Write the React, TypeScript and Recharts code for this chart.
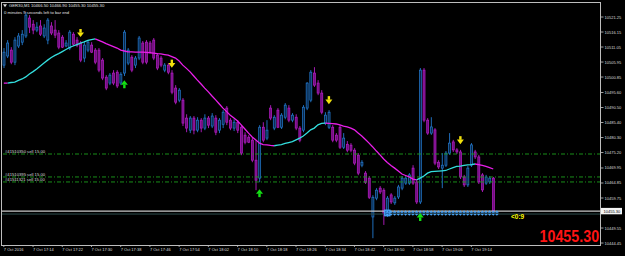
import React from "react";
import { ComposedChart, Bar, Line, XAxis, YAxis, ReferenceLine } from "recharts";

// GER30 M1 candles, 7 Oct 2016 17:06 .. 19:20
const opens = [
  10504.9, 10508.0, 10510.0, 10505.9, 10511.4, 10512.7, 10514.8, 10520.9, 10518.8, 10516.8,
  10518.2, 10514.8, 10513.4, 10518.2, 10516.8, 10515.8, 10514.4, 10511.4, 10510.7, 10515.4,
  10513.4, 10512.4, 10507.3, 10510.0, 10511.7, 10510.0, 10510.0, 10506.6, 10500.8, 10498.8,
  10502.2, 10502.5, 10498.8, 10502.2, 10505.6, 10507.6, 10504.9, 10507.3, 10512.4, 10512.7,
  10512.4, 10513.4, 10508.3, 10507.3, 10503.2, 10504.9, 10502.2, 10497.1, 10493.0, 10493.0,
  10486.9, 10482.8, 10486.9, 10482.8, 10486.2, 10483.5, 10486.9, 10484.2, 10486.9, 10482.8,
  10484.8, 10490.3, 10486.2, 10483.5, 10485.5, 10483.8, 10481.1, 10480.4, 10479.4, 10472.6,
  10466.5, 10483.8, 10480.1, 10490.3, 10483.5, 10489.6, 10483.8, 10487.2, 10490.3, 10486.2,
  10487.2, 10483.5, 10482.8, 10490.3, 10493.0, 10502.2, 10498.8, 10495.4, 10485.2, 10483.8,
  10483.8, 10481.1, 10483.8, 10477.0, 10478.0, 10477.7, 10476.0, 10474.3, 10470.9, 10468.2,
  10466.5, 10453.3, 10459.7, 10463.1, 10462.4, 10453.9, 10460.8, 10458.1, 10460.1, 10463.1,
  10464.8, 10464.8, 10469.9, 10465.2, 10458.4, 10503.2, 10486.2, 10481.8, 10482.9, 10471.9,
  10469.9, 10470.9, 10475.0, 10478.8, 10476.1, 10475.4, 10466.9, 10464.2, 10470.9, 10475.4,
  10473.7, 10467.6, 10464.8, 10465.2, 10466.5,
];
const highs = [
  10510.7, 10513.4, 10511.0, 10514.4, 10515.8, 10516.8, 10522.9, 10521.9, 10520.2, 10519.5,
  10520.2, 10518.8, 10520.9, 10519.5, 10520.2, 10516.8, 10515.1, 10513.4, 10516.8, 10516.1,
  10514.4, 10513.1, 10512.7, 10513.4, 10512.7, 10510.7, 10510.7, 10507.3, 10501.5, 10502.2,
  10503.2, 10503.2, 10502.5, 10516.8, 10510.7, 10508.3, 10508.0, 10514.8, 10513.1, 10513.4,
  10513.1, 10514.1, 10509.0, 10508.0, 10505.6, 10505.6, 10503.2, 10498.1, 10497.1, 10493.7,
  10488.2, 10487.6, 10487.6, 10487.2, 10486.9, 10488.2, 10487.6, 10488.6, 10487.9, 10486.9,
  10489.6, 10491.0, 10486.9, 10486.5, 10486.2, 10484.5, 10482.1, 10481.1, 10480.4, 10479.4,
  10484.5, 10485.5, 10486.2, 10491.3, 10487.9, 10490.3, 10488.6, 10492.0, 10491.3, 10488.6,
  10488.2, 10484.2, 10491.3, 10499.1, 10503.2, 10504.2, 10499.8, 10496.4, 10488.9, 10489.6,
  10484.5, 10481.8, 10484.5, 10481.8, 10479.1, 10478.4, 10476.7, 10475.0, 10472.6, 10468.9,
  10467.2, 10460.7, 10463.1, 10463.8, 10463.1, 10460.4, 10461.4, 10460.4, 10464.2, 10467.2,
  10467.2, 10468.2, 10470.9, 10465.9, 10503.9, 10503.9, 10486.9, 10487.2, 10483.5, 10472.6,
  10475.0, 10475.7, 10481.8, 10479.5, 10476.7, 10476.1, 10467.6, 10470.6, 10478.4, 10476.1,
  10474.4, 10468.2, 10467.6, 10467.2, 10466.9,
];
const lows = [
  10503.9, 10507.3, 10505.2, 10504.9, 10510.7, 10511.7, 10514.1, 10515.8, 10515.4, 10516.1,
  10514.8, 10514.1, 10512.0, 10515.1, 10514.1, 10510.3, 10510.7, 10511.0, 10510.0, 10511.4,
  10511.0, 10505.9, 10505.9, 10509.3, 10509.0, 10505.2, 10502.5, 10499.8, 10496.4, 10498.1,
  10498.1, 10497.1, 10498.1, 10501.2, 10504.9, 10502.5, 10503.9, 10506.6, 10505.2, 10505.2,
  10509.0, 10506.6, 10503.2, 10504.2, 10502.5, 10501.8, 10495.0, 10491.6, 10492.3, 10484.2,
  10482.1, 10481.8, 10481.4, 10482.1, 10482.1, 10482.8, 10483.5, 10483.5, 10481.1, 10481.8,
  10483.5, 10484.5, 10482.8, 10482.5, 10481.8, 10474.3, 10478.0, 10478.4, 10471.9, 10462.4,
  10465.1, 10478.7, 10479.4, 10486.2, 10482.8, 10483.5, 10483.2, 10486.5, 10485.5, 10485.5,
  10482.8, 10478.7, 10482.1, 10489.6, 10492.3, 10497.5, 10494.7, 10488.2, 10484.5, 10483.2,
  10478.7, 10478.7, 10476.4, 10476.4, 10475.3, 10475.3, 10470.9, 10467.5, 10470.2, 10464.5,
  10459.4, 10446.1, 10459.0, 10461.1, 10450.6, 10453.3, 10457.7, 10457.4, 10459.4, 10462.4,
  10464.2, 10464.2, 10464.2, 10457.7, 10457.7, 10485.5, 10481.2, 10481.2, 10470.9, 10469.6,
  10463.1, 10470.3, 10474.4, 10475.4, 10474.7, 10466.2, 10463.5, 10463.5, 10470.3, 10473.0,
  10464.5, 10461.8, 10464.2, 10464.5, 10455.3,
];
const closes = [
  10509.3, 10512.4, 10505.9, 10513.4, 10514.8, 10515.4, 10521.9, 10517.8, 10516.8, 10517.8,
  10515.4, 10517.5, 10520.2, 10515.8, 10515.1, 10511.0, 10511.0, 10512.4, 10516.1, 10512.0,
  10511.7, 10506.6, 10511.7, 10512.7, 10509.3, 10505.9, 10503.2, 10500.5, 10497.1, 10501.5,
  10498.8, 10497.8, 10501.8, 10516.1, 10510.0, 10503.2, 10507.3, 10514.1, 10505.9, 10505.9,
  10509.3, 10507.3, 10503.9, 10504.9, 10504.9, 10502.5, 10495.7, 10492.3, 10496.4, 10485.2,
  10483.5, 10486.9, 10482.8, 10486.2, 10483.5, 10486.9, 10484.5, 10487.6, 10482.1, 10486.2,
  10488.9, 10485.5, 10483.5, 10485.5, 10482.8, 10475.0, 10478.7, 10478.7, 10472.6, 10465.8,
  10483.8, 10479.4, 10482.8, 10486.9, 10487.2, 10483.8, 10487.9, 10491.3, 10486.2, 10487.9,
  10483.5, 10479.4, 10490.6, 10498.8, 10502.5, 10498.1, 10495.4, 10488.9, 10487.9, 10488.9,
  10479.4, 10479.4, 10477.0, 10480.1, 10476.0, 10476.0, 10471.6, 10468.2, 10471.9, 10465.1,
  10460.0, 10460.0, 10462.4, 10461.8, 10454.6, 10459.7, 10458.4, 10459.7, 10463.5, 10466.5,
  10466.5, 10467.6, 10464.8, 10458.4, 10503.2, 10486.2, 10481.8, 10483.9, 10471.6, 10470.3,
  10470.9, 10475.0, 10478.4, 10476.1, 10475.4, 10466.9, 10464.2, 10469.9, 10477.8, 10473.7,
  10465.2, 10462.5, 10466.9, 10466.5, 10455.3,
];
// moving average, coloured cyan while rising and magenta while falling
const ma = [
  10498.8, 10498.8, 10499.0, 10499.1, 10499.7, 10500.2, 10500.9, 10501.9, 10502.7, 10503.6,
  10504.6, 10505.6, 10506.6, 10507.5, 10508.2, 10508.8, 10509.5, 10510.2, 10510.9, 10511.4,
  10511.9, 10512.4, 10512.8, 10513.3, 10513.6, 10513.8, 10513.3, 10512.8, 10512.2, 10511.7,
  10511.2, 10510.7, 10510.0, 10509.7, 10509.4, 10509.4, 10509.3, 10509.3, 10509.3, 10509.2,
  10509.1, 10509.0, 10508.8, 10508.7, 10508.5, 10508.3, 10507.8, 10507.3, 10506.3, 10504.9,
  10503.8, 10502.6, 10501.2, 10499.8, 10498.5, 10497.1, 10495.8, 10494.4, 10493.1, 10491.7,
  10490.3, 10489.1, 10487.9, 10486.9, 10485.9, 10484.6, 10483.2, 10481.8, 10480.5, 10479.5,
  10478.4, 10477.9, 10477.8, 10477.6, 10477.5, 10477.7, 10477.9, 10478.3, 10478.6, 10478.9,
  10479.5, 10480.1, 10480.8, 10481.8, 10482.9, 10483.5, 10484.6, 10485.1, 10485.2, 10485.1,
  10485.0, 10484.9, 10484.6, 10484.2, 10483.9, 10483.5, 10482.9, 10481.8, 10480.8, 10479.6,
  10478.4, 10477.1, 10475.7, 10474.4, 10473.0, 10471.8, 10470.8, 10469.9, 10468.9, 10467.9,
  10467.4, 10466.9, 10466.2, 10465.9, 10466.5, 10467.2, 10468.2, 10468.7, 10468.8, 10468.9,
  10469.0, 10469.1, 10469.6, 10470.1, 10470.5, 10470.6, 10470.8, 10471.0, 10471.1, 10471.3,
  10471.1, 10470.8, 10470.5, 10470.1, 10469.6,
];

const timeLabels = [
  "7 Oct 2016", "7 Oct 17:14", "7 Oct 17:22", "7 Oct 17:30", "7 Oct 17:38", "7 Oct 17:46",
  "7 Oct 17:54", "7 Oct 18:02", "7 Oct 18:10", "7 Oct 18:18", "7 Oct 18:26", "7 Oct 18:34",
  "7 Oct 18:42", "7 Oct 18:50", "7 Oct 18:58", "7 Oct 19:06", "7 Oct 19:14",
];
const priceTicks = [
  10521.25, 10516.15, 10511.05, 10505.95, 10500.85, 10495.6, 10490.5, 10485.4,
  10480.3, 10475.2, 10469.95, 10464.85, 10459.75, 10449.55, 10444.45,
];
const bidPrice = 10455.3;
const spreadLine = 10454.3;
const orderLabels = ["#41510350 sell 15.00", "#41510395 sell 15.00", "#41511321 sell 15.00"];
const orderPrices = [10474.7, 10466.9, 10465.2];
const downArrowBars = [21, 46, 89, 125];
const downArrowPrices = [10515.8, 10505.4, 10493.0, 10479.4];
const upArrowBars = [33, 70, 114];
const upArrowPrices = [10498.4, 10461.4, 10453.3];
const markerBars = [
  105, 106, 107, 108, 109, 110, 111, 112, 113, 114, 115, 116, 117, 118, 119, 120,
  121, 122, 123, 124, 125, 126, 127, 128, 129, 130, 131, 132, 133, 134, 135,
];
const markerPrice = 10454.6;
const slots = 164; // bars plus the empty chart shift on the right

const W = 625;
const H = 256;
const FONT = "Liberation Sans, Arial, sans-serif";
const BULL = "#2379cf";
const BULL_FILL = "#0a2748";
const BEAR = "#b51cc4";
const BEAR_FILL = "#6e107f";
const MARK = "#4aa8ff";

const rising = ma.map((v, i) => i > 0 && v > ma[i - 1]);

const rows = Array.from({ length: slots }, (_, i) => {
  const row: any = { i };
  if (i < opens.length) {
    row.o = opens[i];
    row.h = highs[i];
    row.l = lows[i];
    row.c = closes[i];
    row.range = [lows[i], highs[i]];
    const r = rising[i];
    const rn = i + 1 < ma.length ? rising[i + 1] : r;
    row.maUp = r || rn ? ma[i] : null;
    row.maDown = !r || !rn ? ma[i] : null;
  }
  const d = downArrowBars.indexOf(i);
  if (d >= 0) row.down = downArrowPrices[d];
  const u = upArrowBars.indexOf(i);
  if (u >= 0) row.up = upArrowPrices[u];
  if (markerBars.includes(i)) row.mark = markerPrice;
  return row;
});

function Candle(props: any) {
  const { x, width, payload } = props;
  let { y, height } = props;
  if (payload == null || payload.o == null) return <g />;
  if (height < 0) {
    y += height;
    height = -height;
  }
  const { o, h, l, c } = payload;
  const k = h - l > 0 ? height / (h - l) : 0;
  const cx = x + width / 2;
  const top = y + (h - Math.max(o, c)) * k;
  const bot = y + (h - Math.min(o, c)) * k;
  const bull = c >= o;
  const stroke = bull ? BULL : BEAR;
  return (
    <g>
      <line x1={cx} x2={cx} y1={y} y2={y + height} stroke={stroke} strokeWidth={0.9} />
      <rect
        x={cx - 1}
        y={top}
        width={2}
        height={Math.max(bot - top, 0.8)}
        fill={bull ? BULL_FILL : BEAR_FILL}
        stroke={stroke}
        strokeWidth={0.7}
      />
    </g>
  );
}

function DownArrow(p: any) {
  const { cx, cy, index } = p;
  if (cy == null || p.value == null) return <g key={index} />;
  return (
    <g key={index}>
      <rect x={cx - 1.2} y={cy - 4} width={2.4} height={3.6} fill="#f2e20c" />
      <polygon points={`${cx - 3.5},${cy - 0.6} ${cx + 3.5},${cy - 0.6} ${cx},${cy + 4}`} fill="#f2e20c" />
    </g>
  );
}

function UpArrow(p: any) {
  const { cx, cy, index } = p;
  if (cy == null || p.value == null) return <g key={index} />;
  return (
    <g key={index}>
      <rect x={cx - 1.2} y={cy + 0.4} width={2.4} height={3.6} fill="#14e014" />
      <polygon points={`${cx - 3.5},${cy + 0.6} ${cx + 3.5},${cy + 0.6} ${cx},${cy - 4}`} fill="#14e014" />
    </g>
  );
}

function Marker(p: any) {
  const { cx, cy, index, payload } = p;
  if (cy == null || p.value == null) return <g key={index} />;
  const first = payload && payload.i === markerBars[0];
  return (
    <g key={index}>
      {first && (
        <rect x={cx - 2.6} y={cy - 3} width={5.2} height={5.6} fill="#1d5c9c" stroke={MARK} strokeWidth={1.2} />
      )}
      <polygon points={`${cx - 1.8},${cy - 0.4} ${cx + 1.8},${cy - 0.4} ${cx},${cy - 2.8}`} fill={MARK} />
      <polygon points={`${cx - 1.8},${cy + 0.6} ${cx + 1.8},${cy + 0.6} ${cx},${cy + 2.6}`} fill={MARK} />
    </g>
  );
}

function TimeTick(props: any) {
  const { x, y, payload } = props;
  const idx = Number(payload.value);
  const label = idx % 8 === 0 ? timeLabels[idx / 8] : undefined;
  if (!label) return <g />;
  return (
    <g>
      <line x1={x} x2={x} y1={y} y2={y + 2} stroke="#c8c8c8" strokeWidth={0.8} />
      <text x={x} y={y + 5.8} fontSize={4} fill="#dcdcdc" fontFamily={FONT}>
        {label}
      </text>
    </g>
  );
}

function PriceTick(props: any) {
  const { x, y, payload } = props;
  const v = payload.value;
  if (v === bidPrice) {
    return (
      <g>
        <rect x={x} y={y - 3.2} width={21} height={6.4} fill="#f4f4f4" />
        <text x={x + 2.5} y={y + 1.5} fontSize={4} fill="#000" fontFamily={FONT}>
          {v.toFixed(2)}
        </text>
      </g>
    );
  }
  return (
    <g>
      <line x1={x} x2={x + 2.5} y1={y} y2={y} stroke="#c8c8c8" strokeWidth={0.8} />
      <text x={x + 3.5} y={y + 1.5} fontSize={4} fill="#dcdcdc" fontFamily={FONT}>
        {v.toFixed(2)}
      </text>
    </g>
  );
}

export default function App() {
  return (
    <div style={{ position: "absolute", left: 0, top: 0, width: W, height: H, background: "#000" }}>
      <ComposedChart
        width={W}
        height={H}
        data={rows}
        margin={{ top: 3, right: 0, left: 2, bottom: 0 }}
        barCategoryGap={0}
        barGap={0}
      >
        <XAxis
          dataKey="i"
          type="category"
          interval={7}
          tick={TimeTick}
          height={11}
          axisLine={false}
          tickLine={false}
          tickSize={0}
          tickMargin={0}
        />
        <YAxis
          orientation="right"
          type="number"
          domain={[10443.78, 10526.01]}
          allowDataOverflow
          ticks={[...priceTicks, bidPrice]}
          interval={0}
          tick={PriceTick}
          width={24}
          axisLine={false}
          tickLine={false}
          tickSize={0}
          tickMargin={0}
        />
        {orderPrices.map((p, k) => (
          <ReferenceLine
            key={"o" + k}
            y={p}
            stroke="#1c9e1c"
            strokeDasharray="4 2 1 2"
            strokeWidth={0.9}
            label={(lp: any) => (
              <text x={(lp.viewBox?.x ?? 2) + 3} y={(lp.viewBox?.y ?? 0) - 1} fontSize={4.2} fill="#dcdcdc" fontFamily={FONT}>
                {orderLabels[k]}
              </text>
            )}
          />
        ))}
        <ReferenceLine y={spreadLine} stroke="#2e4d4d" strokeWidth={1} />
        <ReferenceLine y={bidPrice} stroke="#c8c8c8" strokeWidth={1.2} />
        <Bar dataKey="range" shape={Candle} isAnimationActive={false} />
        <Line dataKey="maUp" stroke="#33dede" strokeWidth={1.3} dot={false} activeDot={false} isAnimationActive={false} />
        <Line dataKey="maDown" stroke="#e91ee9" strokeWidth={1.3} dot={false} activeDot={false} isAnimationActive={false} />
        <Line dataKey="mark" stroke="none" dot={Marker} activeDot={false} isAnimationActive={false} />
        <Line dataKey="down" stroke="none" dot={DownArrow} activeDot={false} isAnimationActive={false} />
        <Line dataKey="up" stroke="none" dot={UpArrow} activeDot={false} isAnimationActive={false} />
      </ComposedChart>
      <svg width={W} height={H} style={{ position: "absolute", left: 0, top: 0, pointerEvents: "none" }}>
        <rect x={1.5} y={2.5} width={599} height={243} fill="none" stroke="#bdbdbd" strokeWidth={1} />
        <polygon points="3,4.2 7,4.2 5,7.2" fill="#dcdcdc" />
        <text x={9} y={7.4} fontSize={4.2} fill="#e0e0e0" fontFamily={FONT}>
          GER30,M1  10466.50 10466.90 10455.30 10455.30
        </text>
        <text x={4} y={14} fontSize={4.2} fill="#e0e0e0" fontFamily={FONT}>
          0 minutes 9 seconds left to bar end
        </text>
        <text x={511} y={219.2} fontSize={6.5} fontWeight="bold" fill="#ffff00" fontFamily={FONT}>
          {"<0:9"}
        </text>
        <g transform="translate(539.5,242) scale(1,1.17)">
          <text x={0} y={0} fontSize={14.3} fontWeight="bold" fill="#ff1414" fontFamily={FONT}>
            10455.30
          </text>
        </g>
      </svg>
    </div>
  );
}
